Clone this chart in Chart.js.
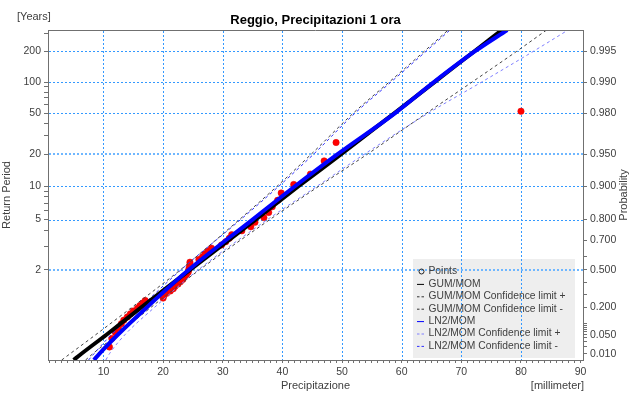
<!DOCTYPE html>
<html>
<head>
<meta charset="utf-8">
<script src="https://cdn.jsdelivr.net/npm/chart.js@4.4.0/dist/chart.umd.min.js"></script>
<style>
  html, body { margin: 0; padding: 0; background: #fff; }
  #wrap { width: 632px; height: 395px; }
</style>
</head>
<body>
<div id="wrap"><canvas id="gumbel_chart" width="632" height="395"></canvas></div>
<script>
// annual maxima of 1 hour rainfall (mm), sorted, with their plotting positions
const pointMm = [
  11.0, 11.4, 12.0, 12.5, 13.0, 13.4, 14.0, 14.5, 15.0, 15.7,
  16.1, 16.6, 17.0, 20.0, 20.1, 20.6, 21.2, 21.7, 22.0, 22.5,
  22.9, 23.3, 23.6, 23.9, 24.2, 24.3, 24.4, 24.5, 24.5, 26.0,
  26.6, 27.0, 27.5, 28.1, 29.8, 30.5, 31.1, 31.5, 33.2, 34.7,
  35.4, 36.9, 37.7, 38.3, 39.2, 39.8, 41.9, 44.7, 47.0, 49.0,
  80.0
];
const pointProb = [
  0.0192, 0.0385, 0.0577, 0.0769, 0.0962, 0.1154, 0.1346, 0.1538, 0.1731, 0.1923,
  0.2115, 0.2308, 0.2500, 0.2692, 0.2885, 0.3077, 0.3269, 0.3462, 0.3654, 0.3846,
  0.4038, 0.4231, 0.4423, 0.4615, 0.4808, 0.5000, 0.5192, 0.5385, 0.5577, 0.5769,
  0.5962, 0.6154, 0.6346, 0.6538, 0.6731, 0.6923, 0.7115, 0.7308, 0.7500, 0.7692,
  0.7885, 0.8077, 0.8269, 0.8462, 0.8654, 0.8846, 0.9038, 0.9231, 0.9423, 0.9615,
  0.9808
];

// fitted distributions and confidence limits, sampled at these probabilities
const curveProb   = [0.005, 0.01, 0.05, 0.2, 0.5, 0.8, 0.9, 0.95, 0.98, 0.99, 0.995, 0.9969];
const gumMom      = [5.0, 6.3, 10.5, 16.4, 24.5, 35.5, 42.7, 49.8, 58.8, 65.5, 72.2, 76.8];
const gumLimPlus  = [7.0, 8.2, 12.3, 18.0, 26.1, 37.9, 46.1, 54.2, 64.2, 71.8, 79.3, 84.3];
const gumLimMinus = [3.0, 4.4, 8.7, 14.8, 22.9, 32.8, 39.1, 44.8, 51.9, 57.9, 63.8, 67.8];
const ln2Mom      = [8.4, 9.3, 12.4, 17.3, 24.3, 35.0, 42.1, 49.2, 58.9, 65.4, 72.3, 77.7];
const ln2LimPlus  = [10.4, 11.0, 13.6, 18.6, 25.9, 37.5, 45.8, 53.7, 64.5, 73.4, 82.1, 87.9];
const ln2LimMinus = [7.5, 8.4, 11.3, 16.2, 23.0, 33.0, 39.4, 45.2, 52.2, 58.2, 64.1, 68.1];

// axes
const xRange = [0.7, 90.4];
const xLabelTicks = [10, 20, 30, 40, 50, 60, 70, 80, 90];
const probRange = [0.005, 0.9969];
const returnTicks = [2, 5, 10, 20, 50, 100, 200];
const returnMinor = [3, 4, 6, 7, 8, 9, 30, 40, 60, 70, 80, 90, 300];
const probTicks = [0.010, 0.050, 0.200, 0.500, 0.700, 0.800, 0.900, 0.950, 0.980, 0.990, 0.995];
const probMinor = [0.02, 0.03, 0.04, 0.06, 0.07, 0.08, 0.09, 0.1, 0.3, 0.4, 0.6];

// Gumbel reduced variate, used as the linear vertical coordinate
const gumbel = p => -Math.log(-Math.log(p));
const toXY = (xs, ps) => xs.map((x, i) => ({ x: x, y: gumbel(ps[i]) }));

const GRID = '#3399ff';
const GRID_WIDE = '#6fb7ff';
const AXIS = '#707070';
const TEXT = '#404040';
const NONE = 'rgba(0,0,0,0)';
const FONT = "'Liberation Sans', Arial, sans-serif";

Chart.defaults.font.family = FONT;
Chart.defaults.font.size = 10.5;
Chart.defaults.color = TEXT;

function legendBox(a) {
  const w = 162, h = 99;
  return { x: a.right - 8 - w, y: a.bottom - 2 - h, w: w, h: h };
}

// dotted grid line made of small filled dashes, so it stays crisp
function dashV(ctx, x, y0, y1) {
  for (let y = y0; y < y1; y += 4) ctx.fillRect(x, y, 1, Math.min(2, y1 - y));
}
function dashH(ctx, y, x0, x1, h) {
  for (let x = x0; x < x1; x += 4) ctx.fillRect(x, y, Math.min(2, x1 - x), h);
}

const decor = {
  id: 'decor',
  beforeDraw(chart) {
    const { ctx, chartArea: a } = chart;
    ctx.save();
    ctx.fillStyle = '#ffffff';
    ctx.fillRect(0, 0, chart.width, chart.height);
    const b = legendBox(a);
    ctx.fillStyle = '#eeeeee';
    ctx.fillRect(b.x, b.y, b.w, b.h);
    ctx.restore();
  },
  beforeDatasetsDraw(chart) {
    const { ctx, chartArea: a, scales } = chart;
    const left = Math.round(a.left), right = Math.round(a.right);
    const top = Math.round(a.top), bottom = Math.round(a.bottom);
    ctx.save();
    ctx.fillStyle = GRID;
    xLabelTicks.forEach(v => {
      const px = Math.round(scales.x.getPixelForValue(v));
      if (px > right - 3) return;
      dashV(ctx, px, top + 1, bottom);
    });
    returnTicks.forEach(t => {
      const wide = (t === 2 || t === 20);
      const py = Math.round(scales.y.getPixelForValue(gumbel(1 - 1 / t)));
      ctx.fillStyle = wide ? GRID_WIDE : GRID;
      dashH(ctx, wide ? py - 1 : py, left + 1, right, wide ? 2 : 1);
    });
    ctx.restore();
  },
  afterDraw(chart) {
    const { ctx, chartArea: a } = chart;
    ctx.save();

    // top edge of the plot frame
    ctx.strokeStyle = AXIS;
    ctx.lineWidth = 1;
    ctx.beginPath();
    ctx.moveTo(a.left, a.top + 0.5);
    ctx.lineTo(a.right, a.top + 0.5);
    ctx.stroke();

    ctx.fillStyle = '#000';
    ctx.font = 'bold 13px ' + FONT;
    ctx.textAlign = 'center';
    ctx.textBaseline = 'middle';
    ctx.fillText('Reggio, Precipitazioni 1 ora', (a.left + a.right) / 2, 20);

    ctx.fillStyle = TEXT;
    ctx.font = '11px ' + FONT;
    ctx.textAlign = 'left';
    ctx.fillText('[Years]', 17, 17);

    ctx.textAlign = 'center';
    ctx.fillText('Precipitazione', (a.left + a.right) / 2, 386);
    ctx.textAlign = 'right';
    ctx.fillText('[millimeter]', a.right + 1, 386);

    ctx.textAlign = 'center';
    ctx.save();
    ctx.translate(7, (a.top + a.bottom) / 2);
    ctx.rotate(-Math.PI / 2);
    ctx.fillText('Return Period', 0, 0);
    ctx.restore();
    ctx.save();
    ctx.translate(624, (a.top + a.bottom) / 2);
    ctx.rotate(-Math.PI / 2);
    ctx.fillText('Probability', 0, 0);
    ctx.restore();

    // legend entries
    const b = legendBox(a);
    ctx.font = '10.3px ' + FONT;
    ctx.textAlign = 'left';
    chart.data.datasets.forEach((ds, i) => {
      const y = b.y + 12.5 + i * 12.4;
      const sx = b.x + 4;
      if (!ds.showLine) {
        ctx.strokeStyle = '#222';
        ctx.lineWidth = 1;
        ctx.beginPath();
        ctx.arc(sx + 4.5, y, 2.5, 0, Math.PI * 2);
        ctx.stroke();
      } else {
        ctx.strokeStyle = ds.legendColor || ds.borderColor;
        ctx.lineWidth = 1;
        ctx.setLineDash(ds.borderDash ? [2.5, 2] : []);
        ctx.beginPath();
        ctx.moveTo(sx, y + 0.5);
        ctx.lineTo(sx + 7, y + 0.5);
        ctx.stroke();
        ctx.setLineDash([]);
      }
      ctx.fillStyle = TEXT;
      ctx.fillText(ds.label, b.x + 15.5, y);
    });
    ctx.restore();
  }
};

const lineSet = (label, xs, color, width, dash, order, legendColor) => ({
  label: label,
  data: toXY(xs, curveProb),
  showLine: true,
  borderColor: color,
  legendColor: legendColor,
  borderWidth: width,
  borderDash: dash,
  pointRadius: 0,
  cubicInterpolationMode: 'monotone',
  clip: 0,
  order: order
});

const ctx = document.getElementById('gumbel_chart').getContext('2d');
new Chart(ctx, {
  type: 'scatter',
  data: {
    datasets: [
      {
        label: 'Points',
        data: toXY(pointMm, pointProb),
        showLine: false,
        pointRadius: 3.2,
        pointBackgroundColor: '#ff0000',
        pointBorderColor: '#e00000',
        pointBorderWidth: 0.5,
        clip: 0,
        order: 3
      },
      lineSet('GUM/MOM', gumMom, '#000000', 4, undefined, 1),
      lineSet('GUM/MOM Confidence limit +', gumLimPlus, '#444444', 1, [3, 3], 2, '#333333'),
      lineSet('GUM/MOM Confidence limit -', gumLimMinus, '#444444', 1, [3, 3], 2, '#333333'),
      lineSet('LN2/MOM', ln2Mom, '#0000ff', 4, undefined, 0),
      lineSet('LN2/MOM Confidence limit +', ln2LimPlus, '#8080ff', 1, [3, 3], 2),
      lineSet('LN2/MOM Confidence limit -', ln2LimMinus, '#3030ff', 1, [3, 3], 2)
    ]
  },
  options: {
    responsive: false,
    animation: false,
    events: [],
    layout: { padding: { top: 30, left: 0, right: 0, bottom: 0 } },
    plugins: { legend: { display: false }, tooltip: { enabled: false } },
    scales: {
      x: {
        type: 'linear',
        position: 'bottom',
        min: xRange[0],
        max: xRange[1],
        afterFit: s => { s.height = 35; },
        afterBuildTicks: s => {
          const t = [];
          for (let v = 1; v <= 90; v++) {
            t.push({ value: v, txt: xLabelTicks.includes(v) ? String(v) : '' });
          }
          s.ticks = t;
        },
        ticks: {
          autoSkip: false,
          maxRotation: 0,
          padding: 3,
          callback: (v, i, t) => t[i].txt
        },
        grid: { drawOnChartArea: false, color: NONE, tickColor: AXIS, tickLength: 3 },
        border: { color: AXIS, width: 1 }
      },
      y: {
        type: 'linear',
        position: 'left',
        min: gumbel(probRange[0]),
        max: gumbel(probRange[1]),
        afterFit: s => { s.width = 48; },
        afterBuildTicks: s => {
          s.ticks = returnTicks.map(t => ({ value: gumbel(1 - 1 / t), txt: String(t) }))
            .concat(returnMinor.map(t => ({ value: gumbel(1 - 1 / t), txt: '' })));
        },
        ticks: {
          autoSkip: false,
          padding: 3,
          callback: (v, i, t) => t[i].txt
        },
        grid: { drawOnChartArea: false, color: NONE, tickColor: AXIS, tickLength: 4 },
        border: { color: AXIS, width: 1 }
      },
      y2: {
        type: 'linear',
        position: 'right',
        min: gumbel(probRange[0]),
        max: gumbel(probRange[1]),
        afterFit: s => { s.width = 49; },
        afterBuildTicks: s => {
          s.ticks = probTicks.map(p => ({ value: gumbel(p), txt: p.toFixed(3) }))
            .concat(probMinor.map(p => ({ value: gumbel(p), txt: '' })));
        },
        ticks: {
          autoSkip: false,
          padding: 3,
          callback: (v, i, t) => t[i].txt
        },
        grid: { drawOnChartArea: false, color: NONE, tickColor: AXIS, tickLength: 4 },
        border: { color: AXIS, width: 1 }
      }
    }
  },
  plugins: [decor]
});
</script>
</body>
</html>
